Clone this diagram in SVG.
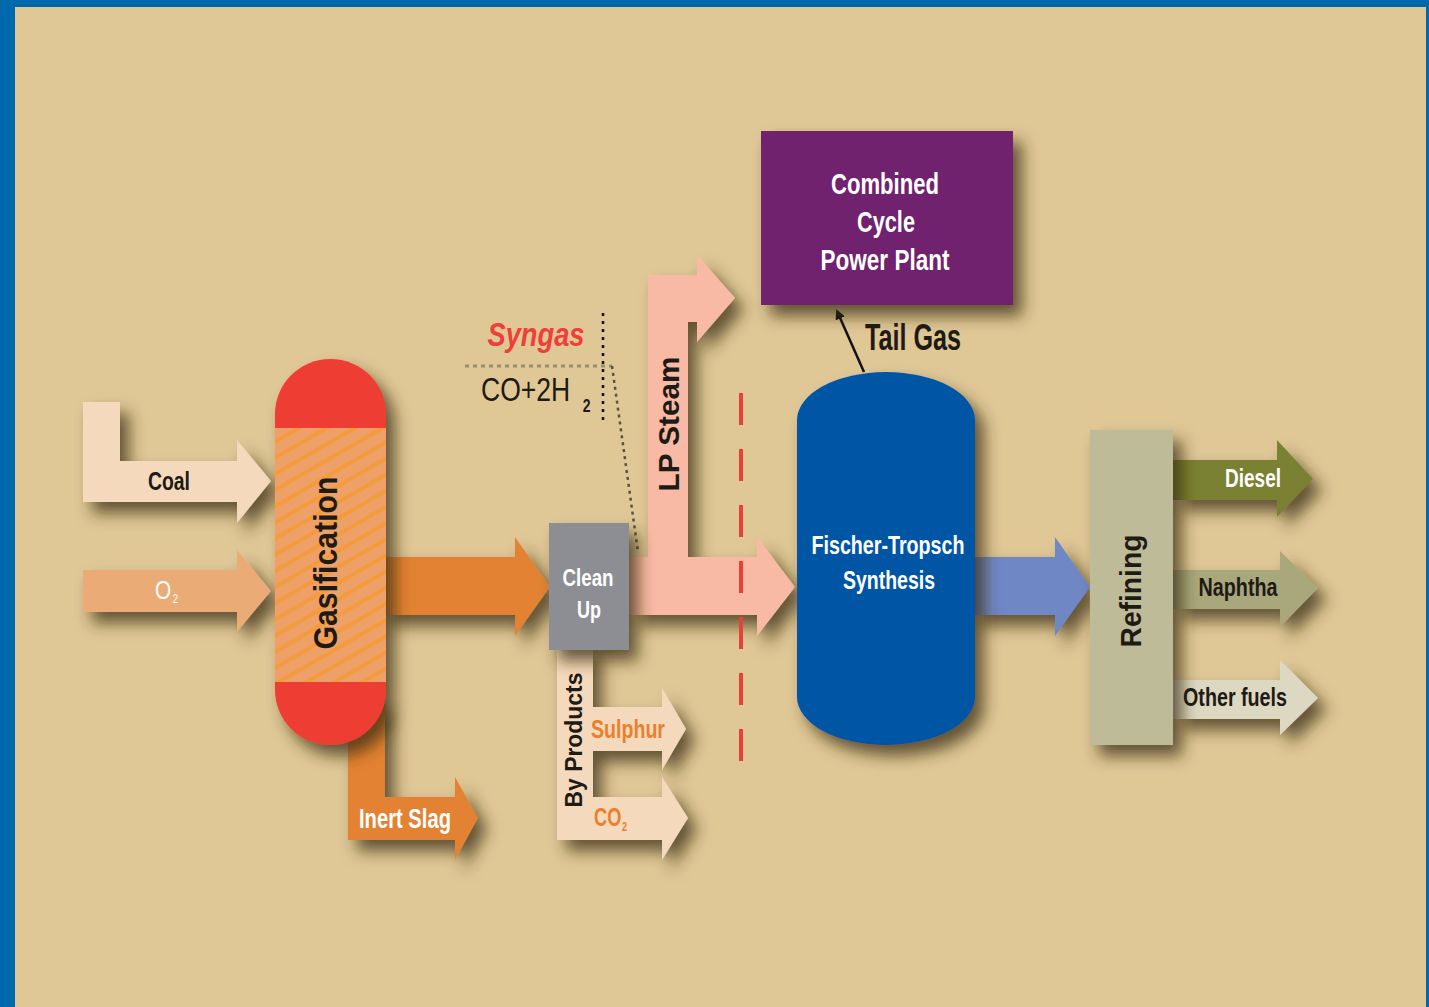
<svg xmlns="http://www.w3.org/2000/svg" width="1429" height="1007" viewBox="0 0 1429 1007">
<defs>
<filter id="sh" x="-30%" y="-30%" width="170%" height="170%">
<feDropShadow dx="9" dy="11" stdDeviation="8" flood-color="#3a2e10" flood-opacity="0.75"/>
</filter>
<pattern id="hatch" width="14" height="14" patternUnits="userSpaceOnUse" patternTransform="rotate(-30)">
<rect width="14" height="14" fill="#EDA068"/>
<rect width="14" height="4" fill="#F59B3A"/>
</pattern>
<marker id="ah" markerWidth="10" markerHeight="10" refX="8" refY="5" orient="auto" markerUnits="userSpaceOnUse">
<path d="M0,0 L10,5 L0,10 Z" fill="#111"/>
</marker>
<style>
.t{font-family:"Liberation Sans",Arial,sans-serif;font-weight:bold;text-anchor:middle;dominant-baseline:central}
.s{font-family:"Liberation Sans",Arial,sans-serif;font-weight:bold}
.dk{fill:#1e1a14}
.wh{fill:#ffffff}
.or{fill:#E8812F}
</style>
</defs>
<rect width="1429" height="1007" fill="#0069AD"/>
<rect x="15" y="7" width="1411" height="1000" fill="#DFC796"/>

<g id="connectors">
<g filter="url(#sh)">
<path id="coal-arrow" d="M83,402 H120 V461 H237 V440 L271,481 L237,523 V502 H83 Z" fill="#F5D9BC"/>
<path id="o2-arrow" d="M83,570 H237 V550 L271,591 L237,632 V612 H83 Z" fill="#EBAB77"/>
<path id="gas-arrow" d="M380,557 H515 V537 L550,587 L515,636 V615 H380 Z" fill="#E38232"/>
<path id="slag-arrow" d="M348,700 H385 V797 H455 V777 L478,818 L455,860 V840 H348 Z" fill="#E38232"/>
<path id="byprod-arrow" d="M557,645 H593 V707 H662 V688 L686,729 L662,770 V751 H593 V797 H662 V777 L688,818 L662,860 V840 H557 Z" fill="#F5D9BC"/>
<path id="steam-arrow" d="M629,557 H648 V275 H697 V255 L735,298 L697,342 V322 H688 V557 H757 V537 L795,587 L757,636 V615 H629 Z" fill="#F9BAA5"/>
<path id="ft-arrow" d="M970,557 H1055 V537 L1090,587 L1055,636 V615 H970 Z" fill="#6F87C5"/>
<path id="diesel-arrow" d="M1173,460 H1277 V440 L1313,479 L1277,517 V500 H1173 Z" fill="#7A8131"/>
<path id="naphtha-arrow" d="M1173,570 H1280 V551 L1318,588 L1280,627 V609 H1173 Z" fill="#A9A87C"/>
<path id="other-arrow" d="M1173,680 H1280 V660 L1318,698 L1280,735 V719 H1173 Z" fill="#DCD8C2"/>
</g>
<line x1="741" y1="393" x2="741" y2="775" stroke="#E8403A" stroke-width="4" stroke-dasharray="32,24"/>
<line x1="864" y1="372" x2="837" y2="311" stroke="#111" stroke-width="2.5" marker-end="url(#ah)"/>
<line x1="465" y1="366" x2="612" y2="366" stroke="#9A8D70" stroke-width="3" stroke-dasharray="4,4"/>
<line x1="603" y1="313" x2="603" y2="420" stroke="#111" stroke-width="2.5" stroke-dasharray="3,5"/>
<line x1="612" y1="366" x2="638" y2="552" stroke="#5a5240" stroke-width="2.5" stroke-dasharray="3,4"/>
</g>

<g id="gasification" filter="url(#sh)">
<path d="M275,428 V414 A55.5,55 0 0 1 386,414 V428 Z" fill="#EE3D33"/>
<rect x="275" y="428" width="111" height="254" fill="url(#hatch)"/>
<path d="M275,682 H386 V690 A55.5,55 0 0 1 275,690 Z" fill="#EE3D33"/>
</g>
<g id="cleanup" filter="url(#sh)">
<rect x="549" y="523" width="80" height="127" fill="#8C8E93"/>
</g>
<g id="ccpp" filter="url(#sh)">
<rect x="761" y="131" width="252" height="174" fill="#70226E"/>
</g>
<g id="fischer" filter="url(#sh)">
<rect x="797" y="372" width="178" height="373" rx="89" ry="48" fill="#0054A4"/>
</g>
<g id="refining" filter="url(#sh)">
<rect x="1090" y="430" width="83" height="315" fill="#BEBB98"/>
</g>

<g id="labels">
<text class="t dk" x="169" y="481" font-size="26" textLength="42" lengthAdjust="spacingAndGlyphs">Coal</text>
<text class="s wh" transform="translate(155,599) scale(0.8,1)" font-size="26" style="font-weight:normal">O<tspan font-size="12" dx="2" dy="4">2</tspan></text>
<text class="t dk" transform="translate(325,563) rotate(-90)" font-size="34" textLength="173" lengthAdjust="spacingAndGlyphs">Gasification</text>
<text class="t wh" x="588" y="577" font-size="24" textLength="51" lengthAdjust="spacingAndGlyphs">Clean</text>
<text class="t wh" x="589" y="609" font-size="24" textLength="24" lengthAdjust="spacingAndGlyphs">Up</text>
<text class="t dk" transform="translate(668,424) rotate(-90)" font-size="30" textLength="135" lengthAdjust="spacingAndGlyphs">LP Steam</text>
<text class="t" x="536" y="334" font-size="34" font-style="italic" fill="#EE4038" textLength="97" lengthAdjust="spacingAndGlyphs">Syngas</text>
<text class="s dk" transform="translate(481,401) scale(0.78,1)" font-size="34" style="font-weight:normal">CO+2H<tspan font-size="18" font-weight="bold" dx="16" dy="11">2</tspan></text>
<text class="t wh" x="885" y="183" font-size="30" textLength="108" lengthAdjust="spacingAndGlyphs">Combined</text>
<text class="t wh" x="886" y="221" font-size="30" textLength="58" lengthAdjust="spacingAndGlyphs">Cycle</text>
<text class="t wh" x="885" y="259" font-size="30" textLength="129" lengthAdjust="spacingAndGlyphs">Power Plant</text>
<text class="t dk" x="913" y="337" font-size="36" textLength="96" lengthAdjust="spacingAndGlyphs">Tail Gas</text>
<text class="t wh" x="888" y="545" font-size="26" textLength="153" lengthAdjust="spacingAndGlyphs">Fischer-Tropsch</text>
<text class="t wh" x="889" y="580" font-size="26" textLength="92" lengthAdjust="spacingAndGlyphs">Synthesis</text>
<text class="t dk" transform="translate(1130,591) rotate(-90)" font-size="30" textLength="113" lengthAdjust="spacingAndGlyphs">Refining</text>
<text class="t wh" x="1253" y="478" font-size="26" textLength="56" lengthAdjust="spacingAndGlyphs">Diesel</text>
<text class="t dk" x="1238" y="587" font-size="26" textLength="79" lengthAdjust="spacingAndGlyphs">Naphtha</text>
<text class="t dk" x="1235" y="697" font-size="26" textLength="104" lengthAdjust="spacingAndGlyphs">Other fuels</text>
<text class="t wh" x="405" y="818" font-size="28" textLength="92" lengthAdjust="spacingAndGlyphs">Inert Slag</text>
<text class="t dk" transform="translate(573,740) rotate(-90)" font-size="24" textLength="135" lengthAdjust="spacingAndGlyphs">By Products</text>
<text class="t or" x="628" y="729" font-size="26" textLength="74" lengthAdjust="spacingAndGlyphs">Sulphur</text>
<text class="s or" transform="translate(594,826) scale(0.7,1)" font-size="26">CO<tspan font-size="13" dx="1" dy="5">2</tspan></text>
</g>
</svg>
